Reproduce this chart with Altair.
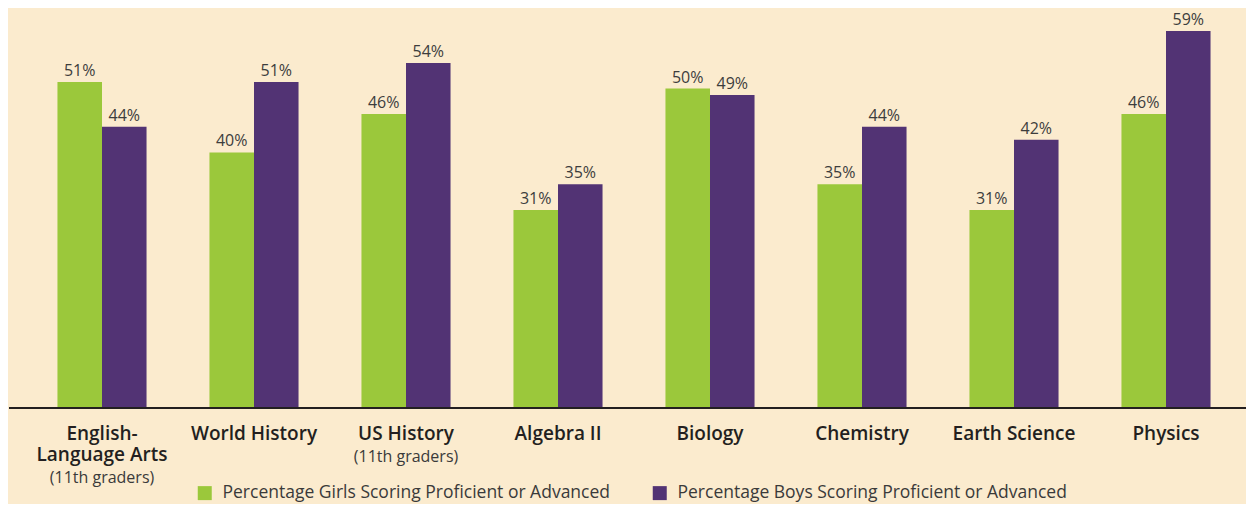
import altair as alt
import pandas as pd

categories = ["English-Language Arts", "World History", "US History", "Algebra II",
              "Biology", "Chemistry", "Earth Science", "Physics"]
girls = [51, 40, 46, 31, 50, 35, 31, 46]
boys = [44, 51, 54, 35, 49, 44, 42, 59]
series = ["Percentage Girls Scoring Proficient or Advanced",
          "Percentage Boys Scoring Proficient or Advanced"]
colors = ["#9BC83B", "#523374"]

label_cat = ["English-Language Arts", "English-Language Arts", "English-Language Arts",
             "World History", "US History", "US History", "Algebra II", "Biology",
             "Chemistry", "Earth Science", "Physics"]
label_text = ["English-", "Language Arts", "(11th graders)", "World History", "US History",
              "(11th graders)", "Algebra II", "Biology", "Chemistry", "Earth Science", "Physics"]
label_row = [0, 1, 2, 0, 0, 1, 0, 0, 0, 0, 0]
label_kind = ["main", "main", "sub", "main", "main", "sub", "main", "main", "main", "main", "main"]

rows = []
for c, g, b in zip(categories, girls, boys):
    rows.append({"cat": c, "series": series[0], "value": g, "label": f"{g}%"})
    rows.append({"cat": c, "series": series[1], "value": b, "label": f"{b}%"})
df = pd.DataFrame(rows)

lab = pd.DataFrame({"cat": label_cat, "text": label_text, "row": label_row, "kind": label_kind})

FONT = "Open Sans"
xscale = alt.Scale(paddingInner=0.414, paddingOuter=0.207, round=False)
xenc = alt.X("cat:N", sort=categories, axis=None, scale=xscale)
xoff = alt.XOffset("series:N", sort=series, scale=alt.Scale(paddingInner=0, paddingOuter=0, round=False))
yenc = alt.Y("value:Q", axis=None, scale=alt.Scale(domain=[0, 62.6], nice=False, zero=True))

bars = alt.Chart(df).mark_bar().encode(
    x=xenc, xOffset=xoff, y=yenc,
    color=alt.Color("series:N", sort=series,
                    scale=alt.Scale(domain=series, range=colors),
                    legend=alt.Legend(title=None, orient="none", legendX=170, legendY=476,
                                      direction="horizontal", symbolType="square",
                                      symbolSize=196, symbolStrokeWidth=0,
                                      labelFont=FONT, labelFontSize=17.5, labelColor="#3a3a3a",
                                      labelOffset=9, columnPadding=40, padding=0,
                                      labelLimit=600))
)

vals = alt.Chart(df).mark_text(baseline="alphabetic", dy=-6, font=FONT, fontSize=16,
                               color="#3d3d3d").encode(
    x=xenc, xOffset=xoff, y=yenc, text="label:N"
)

rule = alt.Chart(df).mark_rule(color="#231F20", strokeWidth=2).encode(
    x=alt.value(-17), x2=alt.value(1220), y=alt.value(400)
)

def label_layer(kind, row, ypix, size, weight, color):
    return alt.Chart(lab).transform_filter(
        (alt.datum.kind == kind) & (alt.datum.row == row)
    ).mark_text(font=FONT, fontSize=size, fontWeight=weight, color=color,
                baseline="middle").encode(
        x=alt.X("cat:N", sort=categories, axis=None, scale=xscale),
        y=alt.value(ypix), text="text:N"
    )

labels = [
    label_layer("main", 0, 426, 19, 600, "#231F20"),
    label_layer("main", 1, 447, 19, 600, "#231F20"),
    label_layer("sub", 1, 449, 16, "normal", "#3a3a3a"),
    label_layer("sub", 2, 470, 16, "normal", "#3a3a3a"),
]

chart = alt.layer(bars, vals, rule, *labels).properties(
    width=1216, height=400,
    autosize=alt.AutoSizeParams(type="none"),
    padding={"left": 18, "top": 0, "right": 4, "bottom": 96},
    background="#FBEBCE",
).configure_view(stroke=None)

chart.save("out.html", embed_options={"renderer": "svg", "actions": False})
